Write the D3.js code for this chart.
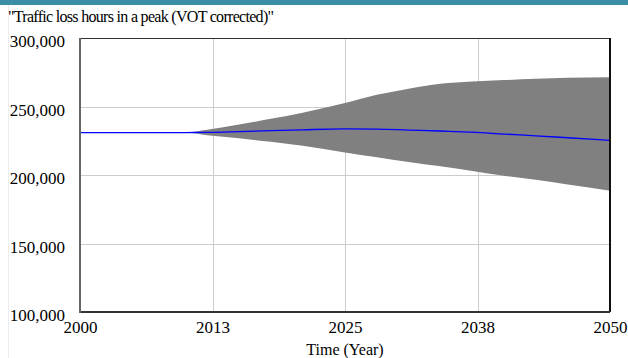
<!DOCTYPE html>
<html>
<head>
<meta charset="utf-8">
<script src="https://cdn.jsdelivr.net/npm/d3@7"></script>
<style>
  html, body { margin: 0; padding: 0; background: #fff; }
  svg { display: block; }
</style>
</head>
<body>
<svg id="chart" width="628" height="358"></svg>
<script>
// Simulation output: mean run and sensitivity envelope (min/max)
const years = [2000, 2005, 2010, 2012, 2015, 2018, 2021, 2025, 2028, 2031, 2034, 2037, 2040, 2043, 2046, 2050];
const meanRun = [231000, 231000, 231000, 231100, 231700, 232400, 233000, 233600, 233500, 232800, 232100, 231300, 229900, 228600, 227200, 225300];
const upperBound = [231000, 231000, 231000, 233000, 236800, 241000, 245500, 252500, 258500, 263000, 266600, 268200, 269300, 270200, 270900, 271300];
const lowerBound = [231000, 231000, 231000, 229000, 226800, 224200, 221300, 216500, 213000, 209500, 206300, 203000, 199500, 196500, 193000, 188500];

const xTickValues = [2000, 2012.5, 2025, 2037.5, 2050];
const xTickLabels = ["2000", "2013", "2025", "2038", "2050"];
const yTickValues = [100000, 150000, 200000, 250000, 300000];
const yTickLabels = ["100,000", "150,000", "200,000", "250,000", "300,000"];

const title = "\"Traffic loss hours in a peak (VOT corrected)\"";
const xTitle = "Time (Year)";

const FONT = "'Liberation Serif', Tinos, 'Times New Roman', Times, 'DejaVu Serif', serif";

const svg = d3.select("#chart");
const W = 628, H = 358;
const plot = { left: 80, right: 610, top: 38, bottom: 312 };

const x = d3.scaleLinear().domain([2000, 2050]).range([plot.left, plot.right]);
const y = d3.scaleLinear().domain([100000, 300000]).range([plot.bottom, plot.top]);

// window chrome: teal strip at top and faint left rule
svg.append("rect").attr("x", 0).attr("y", 0).attr("width", W).attr("height", 5).attr("fill", "#3a8ea6");
svg.append("line").attr("x1", 8.5).attr("x2", 8.5).attr("y1", 5).attr("y2", H)
  .attr("stroke", "#ececec").attr("stroke-width", 1);

// grid
const grid = svg.append("g");
grid.selectAll("line.gx").data(xTickValues.slice(1, -1)).join("line")
  .attr("x1", d => Math.round(x(d)) + 0.5).attr("x2", d => Math.round(x(d)) + 0.5)
  .attr("y1", plot.top).attr("y2", plot.bottom)
  .attr("stroke", "#cccccc").attr("stroke-width", 1);
grid.selectAll("line.gy").data(yTickValues.slice(1, -1)).join("line")
  .attr("x1", plot.left).attr("x2", plot.right)
  .attr("y1", d => Math.round(y(d)) + 0.5).attr("y2", d => Math.round(y(d)) + 0.5)
  .attr("stroke", "#cccccc").attr("stroke-width", 1);

// envelope
const series = years.map((yr, i) => ({ yr, mean: meanRun[i], hi: upperBound[i], lo: lowerBound[i] }));
const area = d3.area().x(d => x(d.yr)).y0(d => y(d.lo)).y1(d => y(d.hi)).curve(d3.curveMonotoneX);
svg.append("path").datum(series).attr("d", area).attr("fill", "#808080");

// mean run
const line = d3.line().x(d => x(d.yr)).y(d => y(d.mean)).curve(d3.curveMonotoneX);
svg.append("path").datum(series).attr("d", line)
  .attr("fill", "none").attr("stroke", "#0000ff").attr("stroke-width", 1.3);

// frame
svg.append("line").attr("x1", plot.left).attr("x2", plot.right).attr("y1", plot.top + 0.5).attr("y2", plot.top + 0.5)
  .attr("stroke", "#333").attr("stroke-width", 1.2);
svg.append("line").attr("x1", plot.right).attr("x2", plot.right).attr("y1", plot.top).attr("y2", plot.bottom)
  .attr("stroke", "#111").attr("stroke-width", 2);
svg.append("line").attr("x1", plot.left).attr("x2", plot.right).attr("y1", plot.bottom).attr("y2", plot.bottom)
  .attr("stroke", "#333").attr("stroke-width", 2);
svg.append("line").attr("x1", plot.left).attr("x2", plot.left).attr("y1", plot.top).attr("y2", plot.bottom + 1)
  .attr("stroke", "#666").attr("stroke-width", 2);

// axes (labels only; frame and grid drawn above)
const xAxis = d3.axisBottom(x).tickValues(xTickValues)
  .tickFormat((d, i) => xTickLabels[i]).tickSize(0).tickPadding(0);
const gx = svg.append("g").attr("transform", `translate(0,${plot.bottom})`).call(xAxis)
  .attr("font-family", FONT).attr("font-size", 17);
gx.select(".domain").remove();
gx.selectAll("text").attr("dy", null).attr("y", 21).attr("fill", "#000");

const yAxis = d3.axisLeft(y).tickValues(yTickValues)
  .tickFormat((d, i) => yTickLabels[i]).tickSize(0).tickPadding(0);
const gy = svg.append("g").attr("transform", "translate(65,0)").call(yAxis)
  .attr("font-family", FONT).attr("font-size", 17);
gy.select(".domain").remove();
gy.selectAll("text").attr("dy", null).attr("x", 0).attr("y", 8.5).attr("fill", "#000");

// titles
svg.append("text").attr("x", 8).attr("y", 22)
  .attr("font-family", FONT).attr("font-size", 16).attr("letter-spacing", -0.7)
  .attr("fill", "#000").text(title);
svg.append("text").attr("x", (plot.left + plot.right) / 2).attr("y", 355)
  .attr("text-anchor", "middle").attr("font-family", FONT).attr("font-size", 16)
  .attr("fill", "#000").text(xTitle);
</script>
</body>
</html>
